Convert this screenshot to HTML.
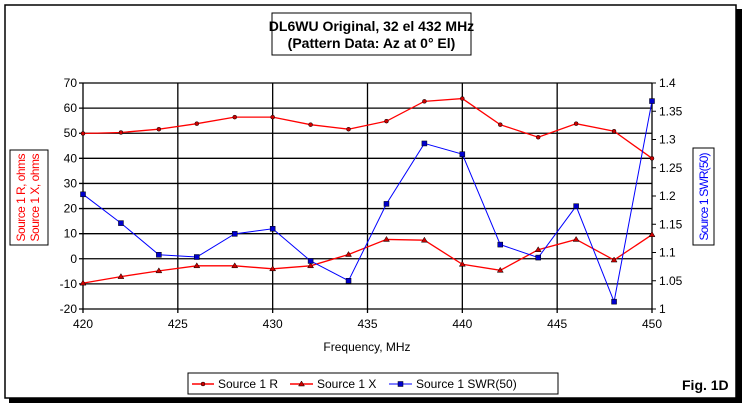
<!DOCTYPE html>
<html><head><meta charset="utf-8"><style>
body{margin:0;background:#fff;}
svg{display:block;font-family:"Liberation Sans",Arial,sans-serif;}
</style></head><body>
<svg width="744" height="407" viewBox="0 0 744 407" xmlns="http://www.w3.org/2000/svg">
<rect x="9" y="9" width="733" height="394" fill="#000"/>
<rect x="5" y="5" width="731" height="393" fill="#fff" stroke="#000" stroke-width="1.5"/>
<g>
<rect x="272" y="13" width="199" height="42" fill="#fff" stroke="#000"/>
<text x="371.5" y="31" text-anchor="middle" font-size="14" font-weight="bold">DL6WU Original, 32 el 432 MHz</text>
<text x="371.5" y="48" text-anchor="middle" font-size="14" font-weight="bold">(Pattern Data: Az at 0° El)</text>
</g>
<g>
<rect x="10" y="150" width="38" height="95" fill="#fff" stroke="#000"/>
<text transform="translate(25,197.5) rotate(-90)" text-anchor="middle" font-size="12" fill="#f00" textLength="88" lengthAdjust="spacing">Source 1 R, ohms</text>
<text transform="translate(39,197.5) rotate(-90)" text-anchor="middle" font-size="12" fill="#f00" textLength="88" lengthAdjust="spacing">Source 1 X, ohms</text>
</g>
<g>
<rect x="693" y="148" width="21" height="97" fill="#fff" stroke="#000"/>
<text transform="translate(708,196.5) rotate(-90)" text-anchor="middle" font-size="12" fill="#00f" textLength="88" lengthAdjust="spacing">Source 1 SWR(50)</text>
</g>
<g id="grid"></g>
<g id="series"></g>
<text x="367" y="351" text-anchor="middle" font-size="12">Frequency, MHz</text>
<g>
<rect x="188" y="373" width="370" height="21" fill="#fff" stroke="#000"/>
<g>
<line x1="192" y1="384" x2="214" y2="384" stroke="#f00" stroke-width="1.5"/><circle cx="203" cy="384" r="2" fill="#c00" stroke="#000" stroke-width="0.5"/>
<text x="218" y="388" font-size="12">Source 1 R</text></g>
<g>
<line x1="290" y1="384" x2="313" y2="384" stroke="#f00" stroke-width="1.5"/><path d="M301.5,381 l3,5 h-6z" fill="#c00" stroke="#000" stroke-width="0.5"/>
<text x="317" y="388" font-size="12">Source 1 X</text></g>
<g>
<line x1="389" y1="384" x2="412" y2="384" stroke="#00f" stroke-width="1"/><rect x="398" y="381.5" width="5" height="5" fill="#00c" stroke="#000" stroke-width="0.5"/>
<text x="416" y="388" font-size="12">Source 1 SWR(50)</text></g>
</g>
<text x="682" y="390" font-size="14" font-weight="bold">Fig. 1D</text>
</svg>
<script>
const freqs=[420,422,424,426,428,430,432,434,436,438,440,442,444,446,448,450];
const rValues=[49.9,50.3,51.6,53.8,56.4,56.4,53.4,51.6,54.8,62.7,63.8,53.4,48.4,53.8,50.8,40];
const xValues=[-9.7,-7.1,-4.8,-2.8,-2.8,-4,-2.8,1.7,7.7,7.4,-2.2,-4.6,3.6,7.7,-0.5,9.6];
const swrValues=[1.203,1.152,1.096,1.092,1.133,1.142,1.085,1.05,1.186,1.293,1.274,1.114,1.091,1.182,1.013,1.368];
const xTicks=[420,425,430,435,440,445,450];
const leftTicks=[70,60,50,40,30,20,10,0,-10,-20];
const rightTicks=[1.4,1.35,1.3,1.25,1.2,1.15,1.1,1.05,1];
const NS="http://www.w3.org/2000/svg";
const L=83,R=652,T=83,B=309;
const sx=v=>L+(v-420)/30*(R-L);
const syL=v=>B-(v+20)/90*(B-T);
const syR=v=>B-(v-1)/0.4*(B-T);
function mk(tag,attrs,parent){const e=document.createElementNS(NS,tag);for(const k in attrs)e.setAttribute(k,attrs[k]);parent.appendChild(e);return e;}
const grid=document.getElementById('grid');
leftTicks.forEach(v=>{
 const y=syL(v);
 const g=mk('line',{x1:L-4,x2:R,y1:y,y2:y,stroke:'#000','stroke-width':1.3},grid);
 
 
 const t=mk('text',{x:L-6,y:y+4,'text-anchor':'end','font-size':12},grid);
 t.textContent=v;
 
 
});
xTicks.forEach(v=>{
 const x=sx(v);
 const g=mk('line',{x1:x,x2:x,y1:T,y2:B+4,stroke:'#000','stroke-width':1.3},grid);
 
 
 const t=mk('text',{x:x,y:B+19,'text-anchor':'middle','font-size':12},grid);
 t.textContent=v;
 
 
});
rightTicks.forEach(v=>{
 const y=syR(v);
 const g=mk('line',{x1:R,x2:R+4,y1:y,y2:y,stroke:'#000','stroke-width':1},grid);
 
 
 const t=mk('text',{x:R+7,y:y+4,'font-size':12},grid);
 t.textContent=v;
 
 
});
const ser=document.getElementById('series');
function line(vals,sy,color,w,name){
 const p=mk('polyline',{points:vals.map((v,i)=>sx(freqs[i])+','+sy(v)).join(' '),fill:'none',stroke:color,'stroke-width':w},ser);
 
 
}
line(rValues,syL,'#f00',1.3,'series-r-line');
line(xValues,syL,'#f00',1.3,'series-x-line');
line(swrValues,syR,'#00f',1,'series-swr-line');
rValues.forEach((v,i)=>{const c=mk('circle',{cx:sx(freqs[i]),cy:syL(v),r:2,fill:'#c00',stroke:'#000','stroke-width':0.5},ser);
 
 });
xValues.forEach((v,i)=>{const x=sx(freqs[i]),y=syL(v);const c=mk('path',{d:`M${x},${y-3} l3,5 h-6z`,fill:'#c00',stroke:'#000','stroke-width':0.5},ser);
 
 });
swrValues.forEach((v,i)=>{const c=mk('rect',{x:sx(freqs[i])-2.5,y:syR(v)-2.5,width:5,height:5,fill:'#00c',stroke:'#000','stroke-width':0.5},ser);
 
 });
</script>
</body></html>
